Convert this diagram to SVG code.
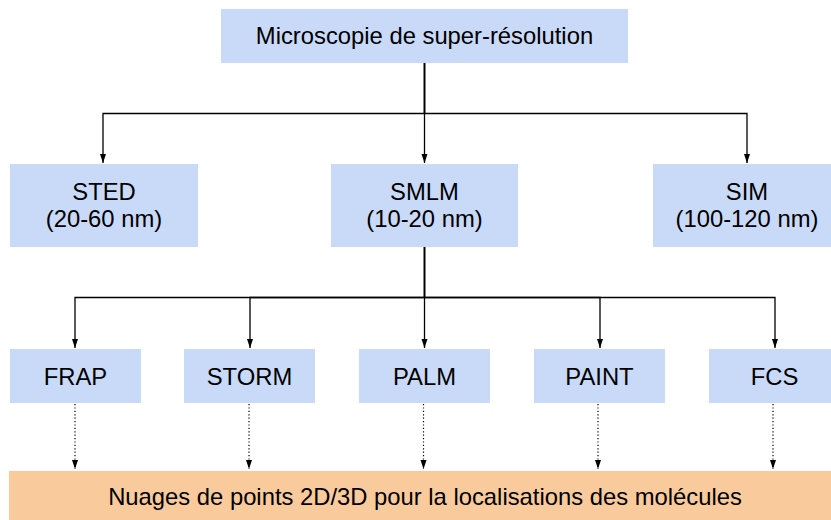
<svg xmlns="http://www.w3.org/2000/svg" width="831" height="520" viewBox="0 0 831 520">
<style>
.b{fill:#c9daf8}
.o{fill:#f9cb9c}
text{font-family:"Liberation Sans",Arial,sans-serif;font-size:23.8px;fill:#000;text-anchor:middle}
.c{fill:none;stroke:#000;stroke-width:1.3}
.t{fill:none;stroke:#000;stroke-width:2}
.d{fill:none;stroke:#000;stroke-width:1.2;stroke-dasharray:1.2 2.2}
</style>
<defs>
<marker id="a" markerUnits="userSpaceOnUse" markerWidth="10" markerHeight="8" refX="9" refY="3" orient="auto">
<path d="M0,0 L9,3 L0,6 z" fill="#000"/>
</marker>
</defs>
<g id="connectors">
<path class="t" d="M424.5,63 V113.5"/>
<path class="c" d="M424.5,113.5 H103 V163" marker-end="url(#a)"/>
<path class="c" d="M424.5,113.5 V163" marker-end="url(#a)"/>
<path class="c" d="M424.5,113.5 H747 V163" marker-end="url(#a)"/>
<path class="t" d="M424.5,247 V297.5"/>
<path class="c" d="M424.5,297.5 H75 V348" marker-end="url(#a)"/>
<path class="c" d="M424.5,297.5 H250 V348" marker-end="url(#a)"/>
<path class="c" d="M424.5,297.5 V348" marker-end="url(#a)"/>
<path class="c" d="M424.5,297.5 H600 V348" marker-end="url(#a)"/>
<path class="c" d="M424.5,297.5 H775 V348" marker-end="url(#a)"/>
<path class="d" d="M75,404 V469" marker-end="url(#a)"/>
<path class="d" d="M249,404 V469" marker-end="url(#a)"/>
<path class="d" d="M423.5,404 V469" marker-end="url(#a)"/>
<path class="d" d="M598,404 V469" marker-end="url(#a)"/>
<path class="d" d="M773,404 V469" marker-end="url(#a)"/>
</g>
<g id="root"><rect class="b" x="221" y="9" width="407" height="54"/><text x="424.5" y="44">Microscopie de super-résolution</text></g>
<g id="sted"><rect class="b" x="10" y="164" width="188" height="83"/><text x="104" y="200">STED</text><text x="104" y="227">(20-60 nm)</text></g>
<g id="smlm"><rect class="b" x="331" y="164" width="187" height="83"/><text x="424.5" y="200">SMLM</text><text x="424.5" y="227">(10-20 nm)</text></g>
<g id="sim"><rect class="b" x="653" y="164" width="188" height="83"/><text x="747" y="200">SIM</text><text x="747" y="227">(100-120 nm)</text></g>
<g id="frap"><rect class="b" x="10" y="349" width="131" height="54"/><text x="75.5" y="384.5">FRAP</text></g>
<g id="storm"><rect class="b" x="184" y="349" width="131" height="54"/><text x="249.5" y="384.5">STORM</text></g>
<g id="palm"><rect class="b" x="359" y="349" width="131" height="54"/><text x="424.5" y="384.5">PALM</text></g>
<g id="paint"><rect class="b" x="534" y="349" width="131" height="54"/><text x="599.5" y="384.5">PAINT</text></g>
<g id="fcs"><rect class="b" x="709" y="349" width="131" height="54"/><text x="774.5" y="384.5">FCS</text></g>
<g id="nuages"><rect class="o" x="9" y="471" width="832" height="55"/><text x="425" y="504.5">Nuages de points 2D/3D pour la localisations des molécules</text></g>
</svg>
